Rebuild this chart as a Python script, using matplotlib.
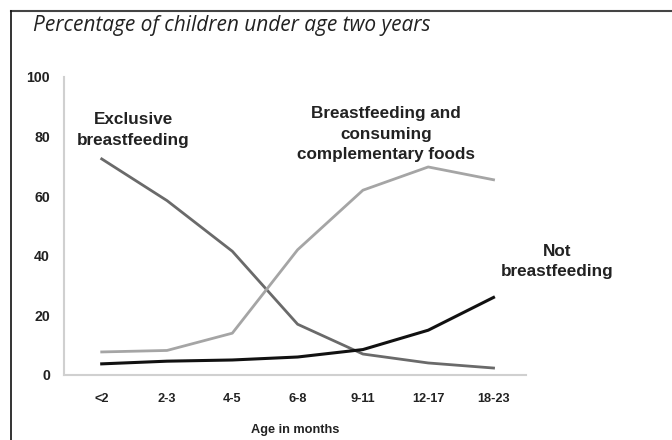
import matplotlib
matplotlib.use("Agg")
import matplotlib.pyplot as plt
from matplotlib.lines import Line2D

# age groups and percentages
ages = ["<2", "2-3", "4-5", "6-8", "9-11", "12-17", "18-23"]
exclusive = [72.5, 58.5, 41.5, 17, 7, 4, 2.3]
complementary = [7.7, 8.2, 14, 42, 62, 69.8, 65.5]
not_bf = [3.7, 4.6, 5, 6, 8.5, 15, 26]

plt.rcParams['font.family'] = ['Liberation Sans', 'DejaVu Sans']

fig = plt.figure(figsize=(6.72, 4.40), dpi=100)
ax = fig.add_axes([0.095, 0.148, 0.688, 0.677])

x = list(range(len(ages)))
ax.plot(x, exclusive, color='#6a6a6a', lw=2)
ax.plot(x, complementary, color='#a5a5a5', lw=2)
ax.plot(x, not_bf, color='#111111', lw=2.2)

ax.set_xlim(-0.58, 6.5)
ax.set_ylim(0, 100)
ax.set_yticks([0, 20, 40, 60, 80, 100])
ax.set_xticks(x)
ax.set_xticklabels(ages)
for lab in ax.get_xticklabels():
    lab.set_fontweight('bold')
    lab.set_fontsize(9.2)
    lab.set_color('#222222')
for lab in ax.get_yticklabels():
    lab.set_fontweight('bold')
    lab.set_fontsize(10.2)
    lab.set_color('#222222')
ax.tick_params(length=0)
ax.tick_params(axis='x', pad=13)
ax.tick_params(axis='y', pad=10)

for s in ['top', 'right']:
    ax.spines[s].set_visible(False)
for s in ['left', 'bottom']:
    ax.spines[s].set_color('#d0d0d0')
    ax.spines[s].set_linewidth(1.5)

ax.set_xlabel("Age in months", fontsize=9.2, fontweight='bold', labelpad=14, color='#222222')

# series labels
kw = dict(ha='center', va='center', fontsize=12.3, fontweight='bold', color='#222222', linespacing=1.45)
ax.text(0.48, 82.2, "Exclusive\nbreastfeeding", **kw)
ax.text(4.35, 80.8, "Breastfeeding and\nconsuming\ncomplementary foods", **kw)
ax.text(6.98, 38, "Not\nbreastfeeding", **kw)

fig.text(0.049, 0.942, "Percentage of children under age two years",
         fontsize=15, style='italic', family=['Open Sans', 'DejaVu Sans'],
         color='#222222', va='center')

# frame round the figure (only top and left visible in the crop)
fig.add_artist(Line2D([0.0165, 1.0], [0.975, 0.975], color='#444444', lw=1.5, transform=fig.transFigure))
fig.add_artist(Line2D([0.0165, 0.0165], [0.0, 0.975], color='#111111', lw=1.2, transform=fig.transFigure))

fig.savefig("out.png", dpi=100)
